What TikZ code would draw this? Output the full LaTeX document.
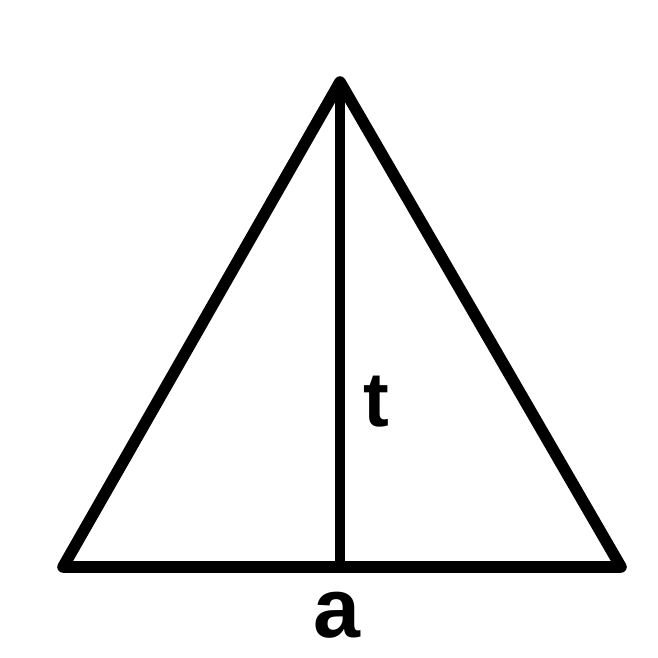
\documentclass[tikz,border=0pt]{standalone}
\usepackage{fontspec}
\setmainfont{Liberation Sans}
\usetikzlibrary{positioning}

\begin{document}
\begin{tikzpicture}[
    side/.style={line width=3.3pt, line join=round, line cap=round},
    height/.style={line width=2.9pt},
    lbl/.style={font=\fontsize{22}{26}\selectfont\bfseries}]
    \useasboundingbox (0,0) rectangle (6.58,6.58);
    \coordinate (apex) at (3.40,5.76);
    \coordinate (bl) at (0.63,0.91);
    \coordinate (br) at (6.21,0.91);
    \coordinate (foot) at (3.40,0.91);
    \draw[side] (apex) -- (br) -- (bl) -- cycle;
    \draw[height] (apex) -- (foot);
    \node[lbl] (lt) at (3.76,2.56) {t};
    \node[lbl, font=\fontsize{24}{28}\selectfont\bfseries] (la) at (3.37,0.43) {a};
  \end{tikzpicture}
\end{document}
